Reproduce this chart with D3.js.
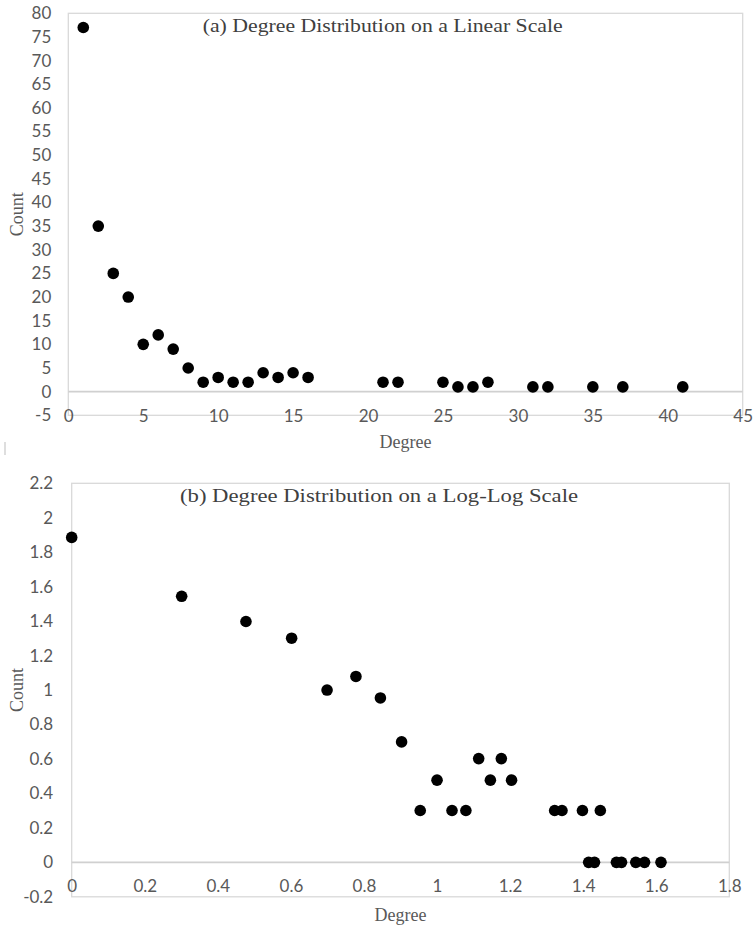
<!DOCTYPE html>
<html><head><meta charset="utf-8">
<script src="https://cdn.jsdelivr.net/npm/d3@7/dist/d3.min.js"></script>
<style>body{margin:0;background:#fff}svg{display:block}</style>
</head><body>
<svg id="c" width="753" height="928"></svg>
<script>
// ---- Data ----
const degrees = [1,2,3,4,5,6,7,8,9,10,11,12,13,14,15,16,21,22,25,26,27,28,31,32,35,37,41];
const counts  = [77,35,25,20,10,12,9,5,2,3,2,2,4,3,4,3,2,2,2,1,1,2,1,1,1,1,1];
const logDegrees = [0,0.301,0.477,0.602,0.699,0.778,0.845,0.903,0.954,1.0,1.041,1.079,1.114,1.146,1.176,1.204,1.322,1.342,1.398,1.415,1.431,1.447,1.491,1.505,1.544,1.568,1.613];
const logCounts  = [1.886,1.544,1.398,1.301,1.0,1.079,0.954,0.699,0.301,0.477,0.301,0.301,0.602,0.477,0.602,0.477,0.301,0.301,0.301,0,0,0.301,0,0,0,0,0];
const linXTicks = [0,5,10,15,20,25,30,35,40,45];
const linYTicks = [-5,0,5,10,15,20,25,30,35,40,45,50,55,60,65,70,75,80];
const logXTicks = [0,0.2,0.4,0.6,0.8,1,1.2,1.4,1.6,1.8];
const logYTicks = [-0.2,0,0.2,0.4,0.6,0.8,1,1.2,1.4,1.6,1.8,2,2.2];
const titleA = "(a) Degree Distribution on a Linear Scale";
const titleB = "(b) Degree Distribution on a Log-Log Scale";
const xTitle = "Degree", yTitle = "Count";

const svg = d3.select("#c");
const labelFont = "Lato, 'Open Sans', sans-serif";
const serif = "'Liberation Serif', 'Times New Roman', serif";

function panel(o) {
  const x = d3.scaleLinear().domain(o.xDomain).range([o.left, o.right]);
  const y = d3.scaleLinear().domain(o.yDomain).range([o.bottom, o.top]);
  const g = svg.append("g");
  // plot border
  g.append("rect").attr("x", o.left).attr("y", o.top)
    .attr("width", o.right - o.left).attr("height", o.bottom - o.top)
    .attr("fill", "none").attr("stroke", "#d9d9d9").attr("stroke-width", 1.3);
  // zero line
  g.append("line").attr("x1", o.left).attr("x2", o.right)
    .attr("y1", y(0)).attr("y2", y(0))
    .attr("stroke", "#d0d0d0").attr("stroke-width", 1.6);
  // y axis labels
  const ya = g.append("g").attr("transform", `translate(${o.left},0)`)
    .call(d3.axisLeft(y).tickValues(o.yTicks).tickSize(0).tickPadding(o.yPad).tickFormat(d => String(d)));
  ya.select(".domain").remove();
  ya.selectAll("text").attr("font-family", labelFont).attr("font-size", 17).attr("fill", "#595959");
  // x axis labels
  const xa = g.append("g").attr("transform", `translate(0,${y(0)})`)
    .call(d3.axisBottom(x).tickValues(o.xTicks).tickSize(0).tickFormat(d => String(d)));
  xa.select(".domain").remove();
  xa.selectAll("text").attr("y", 24).attr("dy", "0.35em")
    .attr("font-family", labelFont).attr("font-size", 17).attr("fill", "#595959");
  // points
  g.append("g").selectAll("circle").data(o.xs.map((d, i) => [d, o.ys[i]])).join("circle")
    .attr("cx", d => x(d[0])).attr("cy", d => y(d[1])).attr("r", 5.8).attr("fill", "#000");
  // title
  g.append("text").attr("x", o.titleX).attr("y", o.titleY).text(o.title)
    .attr("font-family", serif).attr("font-size", 18.5).attr("fill", "#404040")
    .attr("textLength", o.titleLen).attr("lengthAdjust", "spacingAndGlyphs");
  // axis titles
  g.append("text").attr("x", (o.left + o.right) / 2).attr("y", o.xTitleY).attr("text-anchor", "middle")
    .attr("font-family", serif).attr("font-size", 18).attr("fill", "#595959").text(xTitle);
  g.append("text").attr("transform", `translate(23,${(o.top + o.bottom) / 2}) rotate(-90)`)
    .attr("text-anchor", "middle")
    .attr("font-family", serif).attr("font-size", 18).attr("fill", "#595959").text(yTitle);
}

panel({
  xs: degrees, ys: counts, xDomain: [0, 45], yDomain: [-5, 80],
  left: 68.3, right: 742.7, top: 13.3, bottom: 415.3,
  xTicks: linXTicks, yTicks: linYTicks, yPad: 17,
  title: titleA, titleX: 202.7, titleY: 31.5, titleLen: 360, xTitleY: 448
});
panel({
  xs: logDegrees, ys: logCounts, xDomain: [0, 1.8], yDomain: [-0.2, 2.2],
  left: 71.7, right: 729.3, top: 483.3, bottom: 896.8,
  xTicks: logXTicks, yTicks: logYTicks, yPad: 18.5,
  title: titleB, titleX: 180, titleY: 502.3, titleLen: 398, xTitleY: 921
});
// small crop artifact at left edge between panels
svg.append("line").attr("x1", 5).attr("x2", 5).attr("y1", 442).attr("y2", 455)
  .attr("stroke", "#c8c8c8").attr("stroke-width", 1.2);
</script>
</body></html>
